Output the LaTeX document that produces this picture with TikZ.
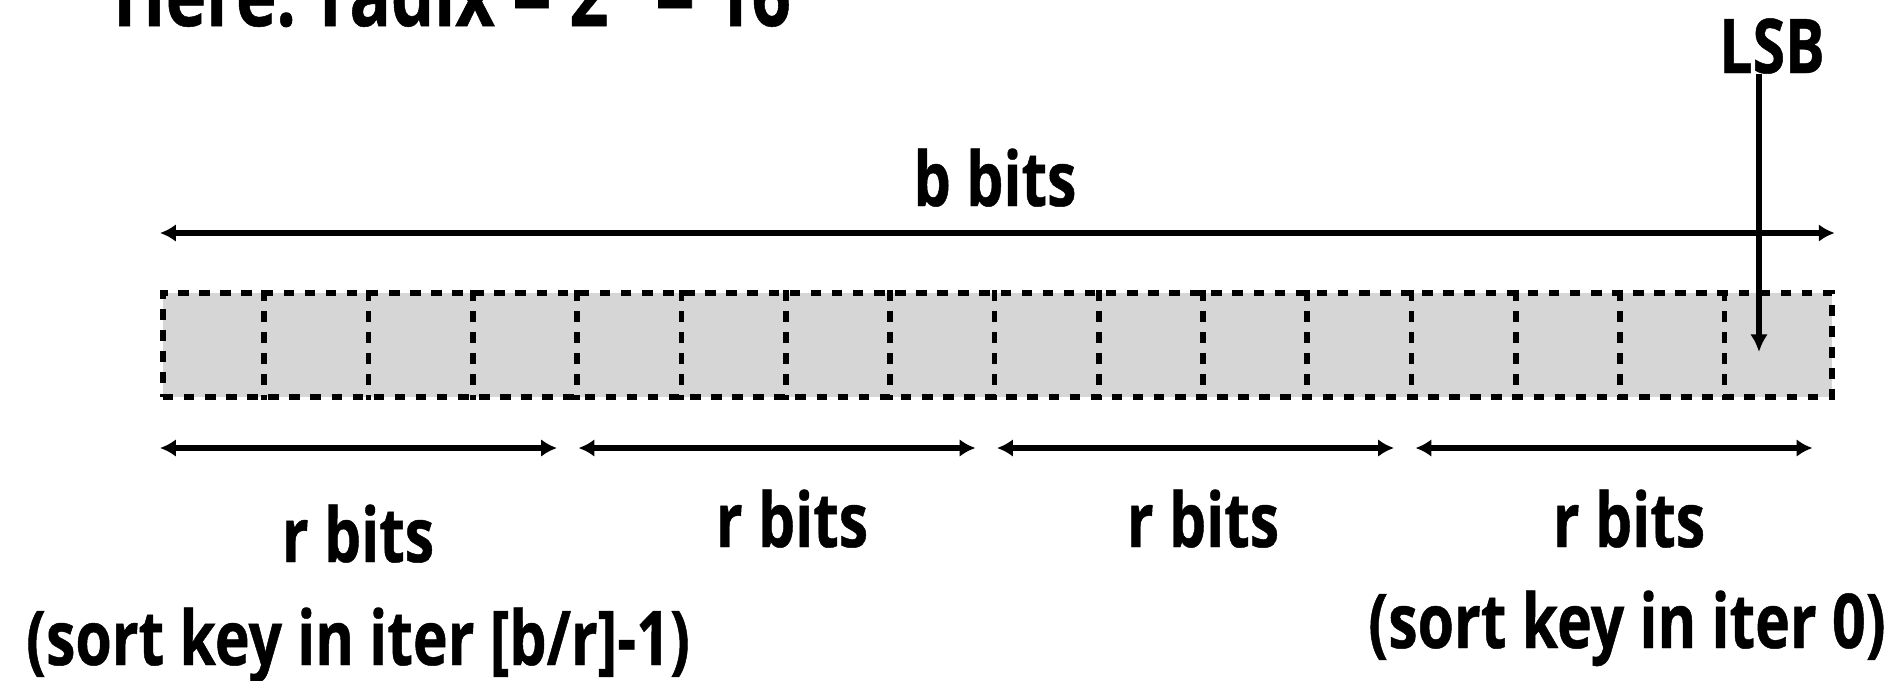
\documentclass[tikz,border=0pt]{standalone}
\usepackage{fontspec}
\setmainfont{Open Sans}[FakeStretch=0.78, BoldFeatures={FakeBold=0.6}]
\usetikzlibrary{arrows.meta}
\definecolor{cellgray}{HTML}{D6D6D6}
\begin{document}
\begin{tikzpicture}[
    lbl/.style={font=\bfseries\fontsize{21.5}{24}\selectfont, inner sep=0pt, anchor=base},
    keybox/.style={draw, fill=cellgray, line width=1.6pt, dash pattern=on 3pt off 3pt,
                   minimum width=16.69cm, minimum height=1.04cm, inner sep=0pt, anchor=north west},
    celldiv/.style={line width=1.6pt, dash pattern=on 3pt off 3pt},
    arrow/.style={-{Latex[length=5pt,width=5pt]}, line width=1.5pt},
    dblarrow/.style={{Latex[length=4.5pt,width=5pt]}-{Latex[length=4.5pt,width=5pt]}, line width=1.6pt}
]
\useasboundingbox (0,0) rectangle (18.9,-6.81);

% Title
\node[lbl, font=\bfseries\fontsize{25}{28}\selectfont] (radix) at (4.52,-0.26) {Here: radix = 2\textsuperscript{4} = 16};

% The key
\node[keybox] (key) at (1.60,-2.90) {};
\foreach \i in {1,...,15}
    \draw[celldiv] ([xshift=\i*1.043cm]key.north west) -- ([xshift=\i*1.043cm]key.south west);

% b bits
\node[lbl] (bbits) at (9.95,-2.06) {b bits};
\coordinate (msb) at ([yshift=0.57cm]key.north west);
\coordinate (lsbend) at ([yshift=0.57cm]key.north east);
\draw[dblarrow] (msb) -- (lsbend);

% LSB
\node[lbl] (lsb) at (17.72,-0.73) {LSB};
\coordinate (lsbtip) at (17.59,-3.52);
\draw[arrow] (lsbtip |- lsb.south) -- (lsbtip);

% r bits
\foreach \i in {0,...,3} {
    \coordinate (r\i a) at ({1.60+\i*4.185},-4.48);
    \coordinate (r\i b) at ({5.57+\i*4.185},-4.48);
    \draw[dblarrow] (r\i a) -- (r\i b);
}
\node[lbl] (r0) at (3.58,-5.62) {r bits};
\node[lbl] (r1) at (7.92,-5.47) {r bits};
\node[lbl] (r2) at (12.03,-5.47) {r bits};
\node[lbl] (r3) at (16.29,-5.47) {r bits};

% Sort keys
\node[lbl] (iterlast) at (3.58,-6.65) {(sort key in iter [b/r]-1)};
\node[lbl] (iterfirst) at (16.27,-6.48) {(sort key in iter 0)};

\end{tikzpicture}
\end{document}
